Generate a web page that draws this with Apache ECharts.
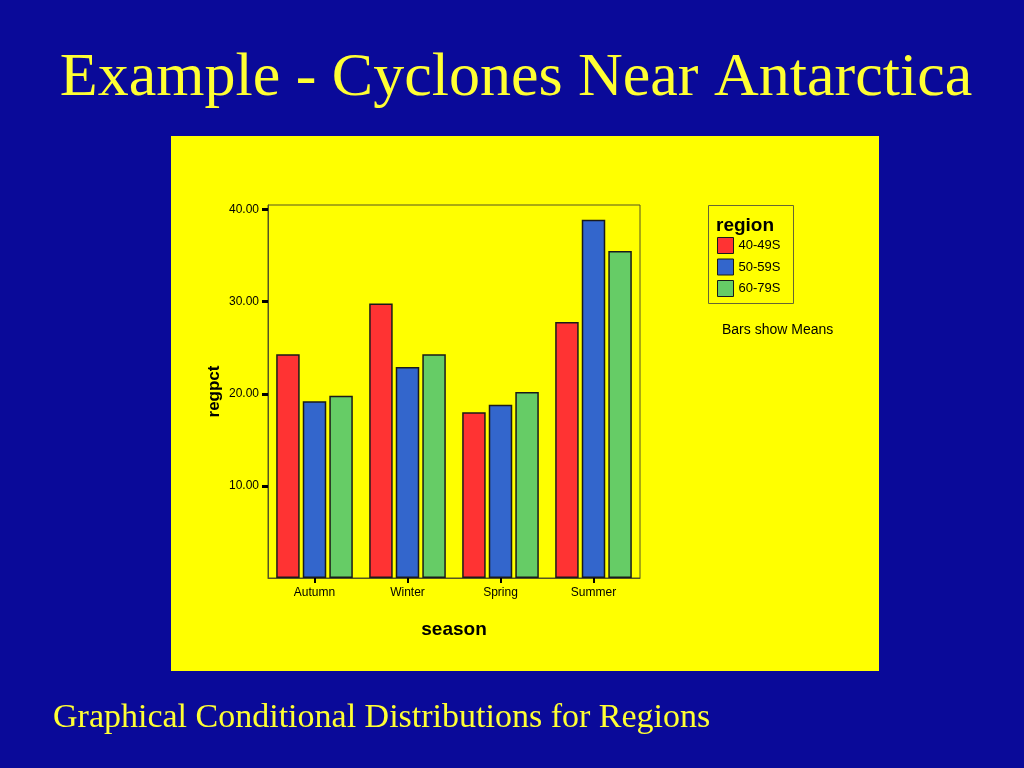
<!DOCTYPE html>
<html>
<head>
<meta charset="utf-8">
<style>
html,body{margin:0;padding:0;background:#0A0A99;}
#chart{width:1024px;height:768px;}
</style>
<script src="https://cdn.jsdelivr.net/npm/echarts@6/dist/echarts.min.js"></script>
</head>
<body>
<div id="chart"></div>
<script>
var seasons = ['Autumn', 'Winter', 'Spring', 'Summer'];
var regionNames = ['40-49S', '50-59S', '60-79S'];
var region4049 = [24.3, 29.8, 18.0, 27.8];
var region5059 = [19.2, 22.9, 18.8, 38.9];
var region6079 = [19.8, 24.3, 20.2, 35.5];
var yTicks = [10, 20, 30, 40];
var colors = ['#FF3333', '#3366CC', '#66CC66'];

var chart = echarts.init(document.getElementById('chart'), null, {renderer: 'canvas'});
var seriesData = [region4049, region5059, region6079];
var series = regionNames.map(function (n, i) {
  return {
    name: n,
    type: 'bar',
    data: seriesData[i],
    barWidth: 23.5,
    barGap: '13%',
    itemStyle: {color: colors[i], borderColor: '#1a1a1a', borderWidth: 1.5},
    emphasis: {disabled: true}
  };
});

chart.setOption({
  backgroundColor: '#0A0A99',
  animation: false,
  textStyle: {fontFamily: 'Liberation Sans, Arial, sans-serif'},
  graphic: [
    {type: 'rect', z: -10, shape: {x: 171, y: 136, width: 708, height: 535}, style: {fill: '#FFFF00'}},
    {type: 'text', x: 516, y: 79, style: {text: 'Example - Cyclones Near Antarctica', font: '62px "Liberation Serif", "Times New Roman", serif', fill: '#FFFF33', align: 'center', verticalAlign: 'middle'}},
    {type: 'text', x: 53, y: 718, style: {text: 'Graphical Conditional Distributions for Regions', font: '34px "Liberation Serif", "Times New Roman", serif', fill: '#FFFF33', align: 'left', verticalAlign: 'middle'}},
    {type: 'rect', shape: {x: 708.5, y: 205.5, width: 85, height: 98}, style: {fill: 'none', stroke: '#666633', lineWidth: 1}},
    {type: 'text', x: 716, y: 226, style: {text: 'region', font: 'bold 19px "Liberation Sans", Arial, sans-serif', fill: '#000', align: 'left', verticalAlign: 'middle'}},
    {type: 'text', x: 722, y: 330, style: {text: 'Bars show Means', font: '14px "Liberation Sans", Arial, sans-serif', fill: '#000', align: 'left', verticalAlign: 'middle'}}
  ],
  legend: {
    orient: 'vertical',
    left: 717,
    top: 237,
    padding: 0,
    itemWidth: 16,
    itemHeight: 16,
    itemGap: 4.5,
    icon: 'rect',
    data: regionNames,
    selectedMode: false,
    itemStyle: {borderColor: '#1a1a1a', borderWidth: 1},
    textStyle: {fontSize: 13, color: '#000', fontFamily: 'Liberation Sans, Arial, sans-serif'}
  },
  grid: {
    left: 268, top: 205, width: 372, height: 373,
    show: true, borderColor: '#555522', borderWidth: 1, backgroundColor: 'transparent'
  },
  xAxis: {
    type: 'category',
    data: seasons,
    name: 'season',
    nameLocation: 'middle',
    nameGap: 42,
    nameTextStyle: {fontSize: 19, fontWeight: 'bold', color: '#000'},
    axisLine: {show: true, lineStyle: {color: '#555522', width: 1}},
    axisTick: {show: true, alignWithLabel: true, length: 5, lineStyle: {color: '#000', width: 2}},
    axisLabel: {fontSize: 12, color: '#000', margin: 9}
  },
  yAxis: {
    type: 'value',
    min: 0,
    max: 40.5,
    interval: 10,
    name: 'regpct',
    nameLocation: 'middle',
    nameGap: 45,
    nameTextStyle: {fontSize: 17, fontWeight: 'bold', color: '#000'},
    splitLine: {show: false},
    axisLine: {show: true, lineStyle: {color: '#555522', width: 1}},
    axisTick: {show: true, length: 6, customValues: yTicks, lineStyle: {color: '#000', width: 3}},
    axisLabel: {fontSize: 12, color: '#000', margin: 9, customValues: yTicks,
      formatter: function (v) { return v.toFixed(2); }}
  },
  series: series
});
</script>
</body>
</html>
